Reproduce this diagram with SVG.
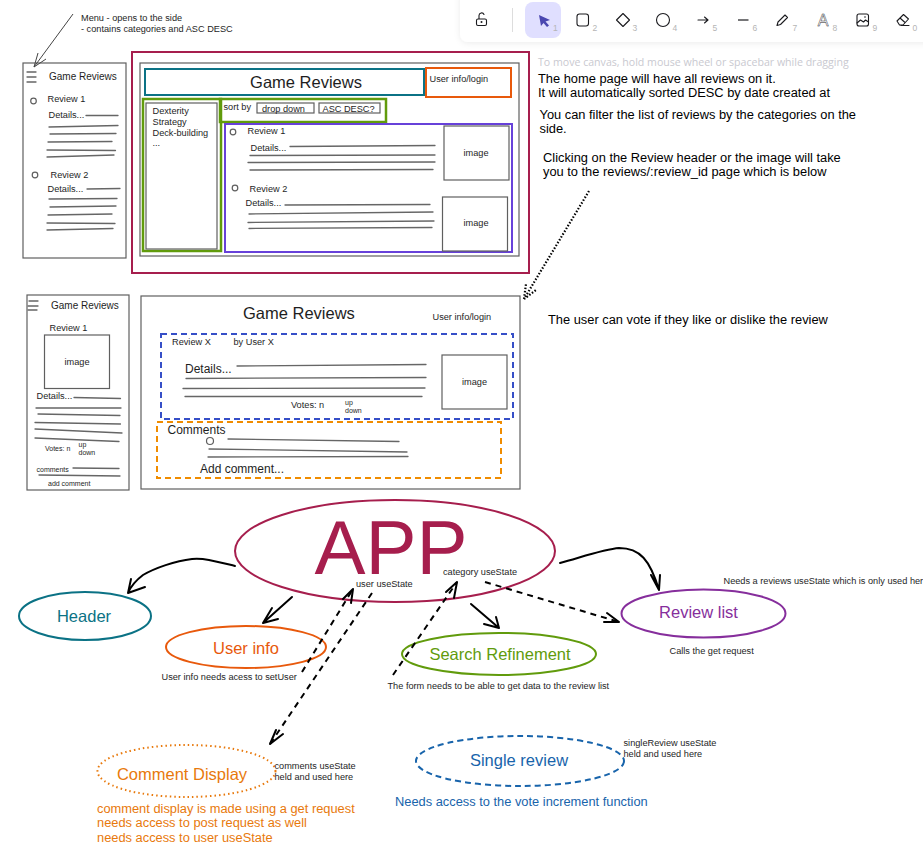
<svg xmlns="http://www.w3.org/2000/svg" width="923" height="862" viewBox="0 0 923 862">
<style>
text{font-family:"Liberation Sans",Arial,sans-serif;fill:#1e1e1e}
.t7{font-size:7px}.t9{font-size:9.2px}.t10{font-size:10px}.t12{font-size:12px}.t13{font-size:12.85px}.t16{font-size:16.5px}
.note{font-size:12.85px;fill:#000}
.nm{text-anchor:middle;font-size:16.5px}
.box{fill:none;stroke:#5f5f5f;stroke-width:1.2}
.ln{fill:none;stroke:#666;stroke-width:1.3;stroke-linecap:round}
.hv{fill:none;stroke-width:2}
.hv3{fill:none;stroke-width:2.5}
.arrow{fill:none;stroke:#000;stroke-width:2;stroke-linecap:round;stroke-linejoin:round}
.dash{fill:none;stroke:#000;stroke-width:2;stroke-dasharray:6 5}
.dot{fill:none;stroke:#000;stroke-width:2.2;stroke-dasharray:1.5 1.8}
.ic{fill:none;stroke:#1b1b1f;stroke-width:1.1;stroke-linejoin:round;stroke-linecap:round}
.num{font-size:8.5px;fill:#b5b5b5}
</style>
<defs>
<filter id="sh" x="-5%" y="-30%" width="110%" height="170%"><feDropShadow dx="0" dy="1" stdDeviation="3" flood-color="#000" flood-opacity="0.08"/></filter>
</defs>
<rect width="923" height="862" fill="#fff"/>

<g id="toolbar">
<rect x="460" y="-12" width="490" height="54" rx="8" fill="#fff" filter="url(#sh)"/>
<rect x="525" y="2" width="36" height="36" rx="8" fill="#e0dfff"/>
<path class="ic" d="M478 19h7a1.500 1.500 0 0 1 1.500 1.500v3.500a1.500 1.500 0 0 1-1.500 1.500h-7a1.500 1.500 0 0 1-1.500-1.500v-3.500a1.500 1.500 0 0 1 1.500-1.500zM479 19v-3.500a2.600 2.600 0 0 1 5-1"/>
<circle cx="481.500" cy="22" r="1" fill="#1b1b1f"/>
<line x1="512.500" y1="8" x2="512.500" y2="32" stroke="#ddd"/>
<path d="M539 15l11 5-4.500 1.500 3.500 4-2 1.500-3.500-4-2.500 3z" fill="#4a47b1"/>
<text class="num" x="553" y="31">1</text>
<rect class="ic" x="577" y="14" width="11.500" height="12" rx="2.500"/>
<text class="num" x="592.500" y="31">2</text>
<path class="ic" d="M623 13.500l6.500 6.500-6.500 6.500-6.500-6.500z"/>
<text class="num" x="632.500" y="31">3</text>
<circle class="ic" cx="663" cy="20" r="6.500"/>
<text class="num" x="672.500" y="31">4</text>
<path class="ic" d="M698 20h10M704.500 17l3.500 3-3.500 3"/>
<text class="num" x="712.500" y="31">5</text>
<line x1="738" y1="20" x2="748.500" y2="20" stroke="#1b1b1f" stroke-width="1.200"/>
<text class="num" x="752.500" y="31">6</text>
<path class="ic" d="M777 25.500l1-3.500 7-7 2.500 2.500-7 7z"/>
<text class="num" x="792.500" y="31">7</text>
<text x="823" y="26" text-anchor="middle" style="font-size:16px;fill:#fff;stroke:#1b1b1f;stroke-width:.45">A</text>
<text class="num" x="832.500" y="31">8</text>
<rect class="ic" x="857" y="14" width="11.500" height="12" rx="2"/>
<path class="ic" d="M857 23l3.500-3 3 2 2-2 3 2"/>
<circle cx="865" cy="17" r=".8" fill="#1b1b1f"/>
<text class="num" x="872.500" y="31">9</text>
<path class="ic" d="M897 21l6.500-6.500 5 4.500-5.500 6h-3.500zM900 18l5 4.500M901 25.500h8"/>
<text class="num" x="912.500" y="31">0</text>
</g>

<g id="menu-note">
<text class="t9" x="81" y="21">Menu - opens to the side</text>
<text class="t9" x="81" y="32">- contains categories and ASC DESC</text>
</g>

<g id="mobile-home">
<rect class="box" x="23" y="63" width="103" height="195"/>
<path class="ln" d="M27 72h9M27 77h9M27 82h9"/>
<text class="t10" x="49" y="80">Game Reviews</text>
<circle class="box" cx="33.500" cy="101" r="2.800"/>
<text class="t9" x="47.500" y="102">Review 1</text>
<text class="t9" x="48.500" y="118">Details...</text>
<path class="ln" d="M86 115.500L118 115.500M49 127L118 125.500M50 134L116 133.500M48 142L112 141.500M47 150L115.500 150.500M47 157L114 155"/>
<circle class="box" cx="35" cy="175" r="2.800"/>
<text class="t9" x="50.500" y="178">Review 2</text>
<text class="t9" x="47.500" y="192">Details...</text>
<path class="ln" d="M87 189L120 188.500M49 199L117 198.500M50 207L116 206M48 215L112 214M47 223L115 223.500M47 230L113 228.500"/>
</g>

<g id="desktop-home">
<rect class="hv" x="132" y="52" width="397" height="221" stroke="#a61e4d"/>
<rect class="box" x="140" y="63" width="379" height="193"/>
<rect class="hv" x="145" y="69" width="279" height="26" stroke="#0b7285"/>
<text x="306" y="88" text-anchor="middle" class="t16">Game Reviews</text>
<rect class="hv" x="426" y="68" width="85" height="29" stroke="#e8590c"/>
<text class="t9" x="429.500" y="82">User info/login</text>
<rect class="hv3" x="143" y="99" width="78" height="152" stroke="#619b0c"/>
<rect class="box" x="146" y="103" width="71" height="146"/>
<text class="t9" x="152.500" y="114">Dexterity</text>
<text class="t9" x="152.500" y="125">Strategy</text>
<text class="t9" x="152.500" y="136">Deck-building</text>
<text class="t9" x="152.500" y="146">...</text>
<rect class="hv3" x="220" y="99" width="166" height="23" stroke="#619b0c"/>
<text class="t9" x="223.500" y="110">sort by</text>
<rect class="box" x="257" y="103" width="57" height="10"/>
<text class="t9" x="262" y="112">drop down</text>
<rect class="box" x="319" y="103" width="61" height="10"/>
<text class="t9" x="322.500" y="112">ASC DESC?</text>
<rect class="hv" x="225" y="124" width="287" height="128" stroke="#6741d9"/>
<circle class="box" cx="233" cy="132" r="2.800"/>
<text class="t9" x="247.500" y="134">Review 1</text>
<text class="t9" x="250.500" y="151">Details...</text>
<path class="ln" d="M290 146.500L435 145.500M250 155.500L435 155M248 162.500L435 162M250 170L433 169.500"/>
<rect class="box" x="444" y="126" width="65" height="54"/>
<text class="t9" x="463.500" y="156">image</text>
<circle class="box" cx="235" cy="188" r="2.800"/>
<text class="t9" x="249.500" y="192">Review 2</text>
<text class="t9" x="245.500" y="206">Details...</text>
<path class="ln" d="M285 205L430 204.500M249 214L433 212M248 222.500L434 221M249 228.500L432 227.500"/>
<rect class="box" x="442.500" y="197" width="65" height="54"/>
<text class="t9" x="463.500" y="226">image</text>
</g>

<g id="home-notes">
<text x="538" y="66" style="font-family:'Open Sans',sans-serif;font-size:10.6px;fill:#c9c9d0">To move canvas, hold mouse wheel or spacebar while dragging</text>
<text class="note" x="538" y="83">The home page will have all reviews on it.</text>
<text class="note" x="538" y="97">It will automatically sorted DESC by date created at</text>
<text class="note" x="539.500" y="119">You can filter the list of reviews by the categories on the</text>
<text class="note" x="539.500" y="133">side.</text>
<text class="note" x="543" y="162">Clicking on the Review header or the image will take</text>
<text class="note" x="543" y="176">you to the reviews/:review_id page which is below</text>
</g>

<g id="mobile-review">
<rect class="box" x="27" y="295" width="102" height="195"/>
<path class="ln" d="M29 301h9M28 306h10M28 310h9"/>
<text class="t10" x="51" y="309">Game Reviews</text>
<text class="t9" x="49.500" y="331">Review 1</text>
<rect class="box" x="44.500" y="335" width="65" height="53.500"/>
<text class="t9" x="64.500" y="365">image</text>
<text class="t9" x="36.500" y="399">Details...</text>
<path class="ln" d="M74 397.500L120.500 398.500M36 408L121 408M38 414L120 415.500M35 422.500L120.500 424M35 429L122 433M35 438L119 441.500"/>
<text class="t7" x="45" y="451">Votes: n</text>
<text class="t7" x="78.500" y="447">up</text>
<text class="t7" x="78.500" y="455">down</text>
<text class="t7" x="36.500" y="472">comments</text>
<path class="ln" d="M73 468L119 468.500M39 475L120 476"/>
<text class="t7" x="48" y="486">add comment</text>
</g>

<g id="desktop-review">
<rect class="box" x="141" y="296" width="379" height="193"/>
<text class="t16" x="243" y="319">Game Reviews</text>
<text class="t9" x="432.500" y="320">User info/login</text>
<rect class="hv" x="161" y="334" width="352" height="85" stroke="#364fc7" stroke-dasharray="6 4"/>
<text class="t9" x="172" y="345">Review X</text>
<text class="t9" x="233.500" y="345">by User X</text>
<text class="t12" x="185" y="373">Details...</text>
<path class="ln" d="M237 366L426 364.500M186 378.500L426 377.500M183 388.500L425 388M185 396.500L422 396.500"/>
<text class="t9" x="291" y="408">Votes: n</text>
<text class="t7" x="345" y="405">up</text>
<text class="t7" x="345" y="413">down</text>
<rect class="box" x="442" y="355" width="65" height="54"/>
<text class="t9" x="462" y="385">image</text>
<rect class="hv" x="157" y="422" width="344" height="56" stroke="#f08c00" stroke-dasharray="6 4"/>
<text class="t12" x="167.500" y="434">Comments</text>
<circle class="box" cx="210" cy="441" r="3.500"/>
<path class="ln" d="M228 439L399 441.500M209 449L407 452M208 457L408 456.500"/>
<text class="t12" x="200" y="473">Add comment...</text>
</g>

<g id="vote-note"><text class="note" x="548" y="324">The user can vote if they like or dislike the review</text></g>

<g id="app">
<ellipse class="hv" cx="395" cy="551" rx="160" ry="51" stroke="#a61e4d"/>
<text x="391" y="574" text-anchor="middle" style="font-size:76.500px;fill:#a61e4d">APP</text>
<text class="t9" x="356" y="587">user useState</text>
<text class="t9" x="443" y="575">category useState</text>
</g>
<g id="header">
<ellipse class="hv" cx="85" cy="616" rx="66" ry="24" stroke="#0b7285"/>
<text class="nm" x="84" y="622" style="fill:#0b7285">Header</text>
</g>
<g id="user-info">
<ellipse class="hv" cx="246" cy="647" rx="80" ry="21" stroke="#e8590c"/>
<text class="nm" x="246" y="654" style="fill:#e8590c">User info</text>
<text class="t9" x="161.500" y="680">User info needs acess to setUser</text>
</g>
<g id="search-refinement">
<ellipse class="hv" cx="499" cy="654" rx="97" ry="21" stroke="#619b0c"/>
<text class="nm" x="500" y="660" style="fill:#619b0c">Search Refinement</text>
<text class="t9" x="387.500" y="689">The form needs to be able to get data to the review list</text>
</g>
<g id="review-list">
<ellipse class="hv" cx="703.500" cy="613.500" rx="82" ry="24" stroke="#862e9c"/>
<text class="nm" x="698.500" y="618" style="fill:#862e9c">Review list</text>
<text class="t9" x="723.500" y="584">Needs a reviews useState which is only used here</text>
<text class="t9" x="669.500" y="654">Calls the get request</text>
</g>
<g id="comment-display">
<ellipse class="hv" cx="186.500" cy="771" rx="89" ry="26" stroke="#e8790c" stroke-dasharray="1.500 3"/>
<text class="nm" x="182" y="780" style="fill:#e8790c">Comment Display</text>
<text class="t9" x="274.500" y="769">comments useState</text>
<text class="t9" x="274.500" y="780">held and used here</text>
<text x="97" y="813" class="t13" style="fill:#e8790c">comment display is made using a get request</text>
<text x="97" y="827" class="t13" style="fill:#e8790c">needs access to post request as well</text>
<text x="97" y="842" class="t13" style="fill:#e8790c">needs access to user useState</text>
</g>
<g id="single-review">
<ellipse class="hv" cx="520" cy="761" rx="104" ry="25" stroke="#1864ab" stroke-dasharray="6 4"/>
<text class="nm" x="519" y="766" style="fill:#1864ab">Single review</text>
<text class="t9" x="623.500" y="746">singleReview useState</text>
<text class="t9" x="623.500" y="757">held and used here</text>
<text x="395" y="806" class="t13" style="fill:#1864ab">Needs access to the vote increment function</text>
</g>

<g id="connectors">
<path d="M73 14L34 67M34 67L38 53M34 67L46 59" fill="none" stroke="#444" stroke-width="1"/>
<path class="dot" d="M589 191L524 299M524 299L526 284M524 299L536 290"/>
<path class="arrow" d="M235 566C215 561 205 558 192 559C175 561 155 568 143 575C135 581 131 586 128 593M128 593L131 579M128 593L145 587"/>
<path class="arrow" d="M292 597L263 623M263 623L272 608M263 623L278 619"/>
<path class="arrow" d="M560 563C585 556 605 549 619 548C640 548 650 560 659 590M659 590L651 575M659 590L660 575"/>
<path class="arrow" d="M471 604L499 628M499 628L484 624M499 628L496 617"/>
<path class="dash" d="M302 672L353 589"/>
<path class="arrow" d="M353 589L343 599M353 589L351 603"/>
<path class="dash" d="M372 593L270 744"/>
<path class="arrow" d="M270 744L276 730M270 744L283 734"/>
<path class="dash" d="M393 675L457 582"/>
<path class="arrow" d="M457 582L446 592M457 582L454 598"/>
<path class="dash" d="M485 582L619 622"/>
<path class="arrow" d="M619 622L607 613M619 622L604 622"/>
</g>
</svg>
